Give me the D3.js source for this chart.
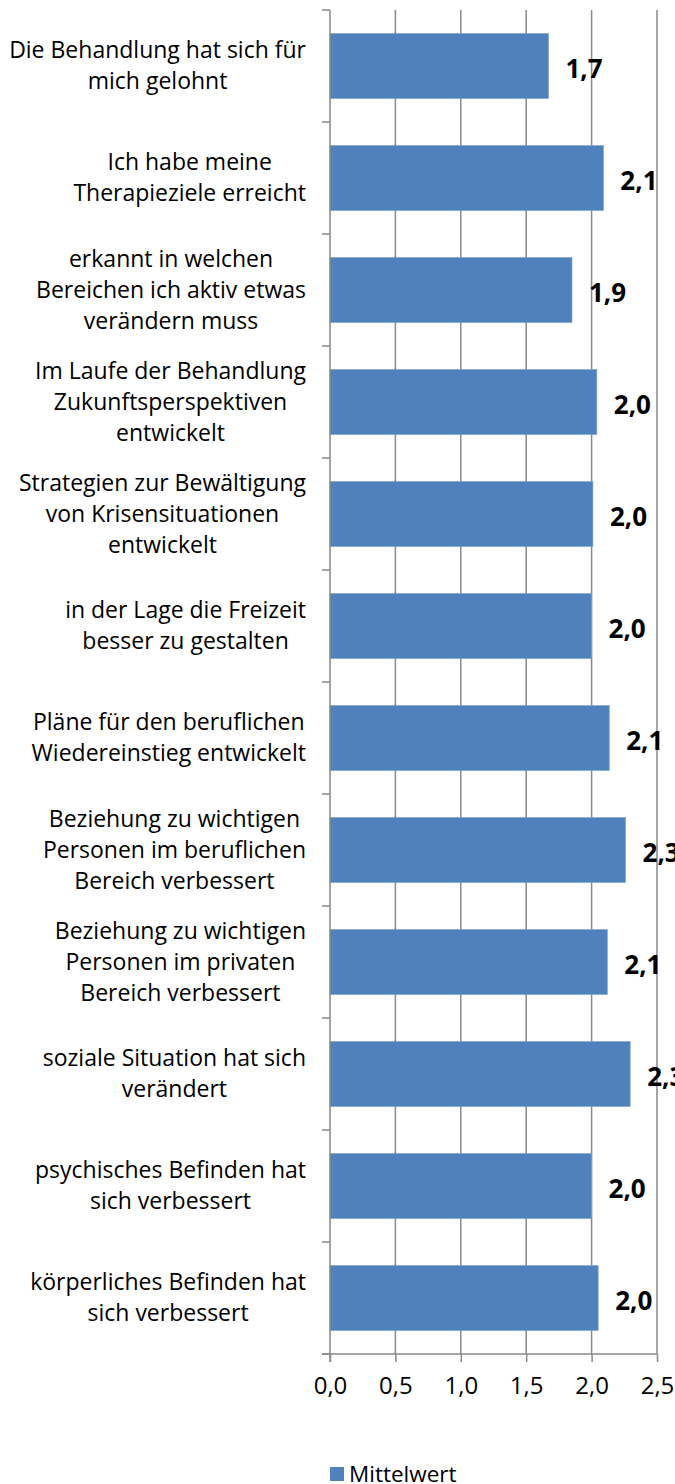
<!DOCTYPE html>
<html>
<head>
<meta charset="utf-8">
<script src="https://cdn.jsdelivr.net/npm/d3@7"></script>
<style>
    body { margin: 0; background: #fff; }
    svg { display: block; font-family: "Open Sans", sans-serif; }
</style>
</head>
<body>
<div id="container"></div>
<script>
// categories, top to bottom (each entry = wrapped lines)
const categories = [
    ["Die Behandlung hat sich für", "mich gelohnt"],
    ["Ich habe meine", "Therapieziele erreicht"],
    ["erkannt in welchen", "Bereichen ich aktiv etwas", "verändern muss"],
    ["Im Laufe der Behandlung", "Zukunftsperspektiven", "entwickelt"],
    ["Strategien zur Bewältigung", "von Krisensituationen", "entwickelt"],
    ["in der Lage die Freizeit", "besser zu gestalten"],
    ["Pläne für den beruflichen", "Wiedereinstieg entwickelt"],
    ["Beziehung zu wichtigen", "Personen im beruflichen", "Bereich verbessert"],
    ["Beziehung zu wichtigen", "Personen im privaten", "Bereich verbessert"],
    ["soziale Situation hat sich", "verändert"],
    ["psychisches Befinden hat", "sich verbessert"],
    ["körperliches Befinden hat", "sich verbessert"]
];
const mittelwert = [1.67, 2.09, 1.85, 2.04, 2.01, 2.0, 2.135, 2.26, 2.12, 2.295, 2.0, 2.05];
const xTicks = [0, 0.5, 1.0, 1.5, 2.0, 2.5];
const seriesName = "Mittelwert";

const width = 675;
const height = 1484;
const marginTop = 10;
const marginLeft = 330;
const plotRight = 657;
const plotBottom = 1354;

const barColor = "#4F81BD";
const gridColor = "#898989";

const data = mittelwert.map((v, i) => ({ idx: i, lines: categories[i], value: v }));

const x = d3.scaleLinear()
    .domain([0, 2.5])
    .range([marginLeft, plotRight]);

const y = d3.scaleBand()
    .domain(data.map(d => d.idx))
    .range([marginTop, plotBottom])
    .paddingInner(0.42)
    .paddingOuter(0.21);

const fmt = v => d3.format(".1f")(v).replace(".", ",");

const svg = d3.create("svg")
    .attr("width", width)
    .attr("height", height);

// vertical gridlines
svg.append("g")
    .selectAll("line")
    .data(xTicks.slice(1))
    .join("line")
        .attr("x1", d => x(d))
        .attr("x2", d => x(d))
        .attr("y1", marginTop)
        .attr("y2", plotBottom)
        .attr("stroke", gridColor)
        .attr("stroke-width", 1.5);

// bars
svg.append("g")
    .selectAll("rect")
    .data(data)
    .join("rect")
        .attr("x", x(0))
        .attr("y", d => y(d.idx))
        .attr("width", d => x(d.value) - x(0))
        .attr("height", y.bandwidth())
        .attr("fill", barColor)
        .attr("stroke", "#7FA3D1")
        .attr("stroke-width", 0.7);

// value labels
svg.append("g")
    .selectAll("text")
    .data(data)
    .join("text")
        .attr("x", d => x(d.value) + 17)
        .attr("y", d => y(d.idx) + y.bandwidth() / 2 + 12)
        .attr("font-size", "26px")
        .attr("font-weight", "bold")
        .attr("fill", "#000")
        .text(d => fmt(d.value));

// x axis
const xAxis = svg.append("g")
    .attr("transform", `translate(0,${plotBottom})`)
    .call(d3.axisBottom(x)
        .tickValues(xTicks)
        .tickSize(8)
        .tickSizeOuter(0)
        .tickPadding(15)
        .tickFormat(fmt));
xAxis.select(".domain").remove();
xAxis.selectAll(".tick line").attr("stroke", gridColor).attr("stroke-width", 1.5);
xAxis.selectAll(".tick text")
    .attr("font-size", "24px")
    .attr("font-family", "'Open Sans', sans-serif")
    .attr("fill", "#000");
xAxis.append("line")
    .attr("x1", marginLeft - 8)
    .attr("x2", plotRight)
    .attr("stroke", gridColor)
    .attr("stroke-width", 1.5);

// y axis line with ticks at band boundaries
const boundaries = d3.range(data.length + 1).map(i => marginTop + i * y.step());
svg.append("line")
    .attr("x1", marginLeft)
    .attr("x2", marginLeft)
    .attr("y1", marginTop)
    .attr("y2", plotBottom + 8)
    .attr("stroke", gridColor)
    .attr("stroke-width", 1.5);
svg.append("g")
    .selectAll("line")
    .data(boundaries)
    .join("line")
        .attr("x1", marginLeft - 8)
        .attr("x2", marginLeft)
        .attr("y1", d => d)
        .attr("y2", d => d)
        .attr("stroke", gridColor)
        .attr("stroke-width", 1.5);

// category labels: lines centred in block, block right edge at ~306
const lineH = 31;
const labelRight = 306;
const catG = svg.append("g")
    .attr("font-size", "23px")
    .attr("fill", "#000");
data.forEach(d => {
    const g = catG.append("g");
    const cy = y(d.idx) + y.bandwidth() / 2;
    const n = d.lines.length;
    const texts = d.lines.map((ln, j) => g.append("text")
        .attr("y", cy + (j - (n - 1) / 2) * lineH + 7.5)
        .attr("text-anchor", "middle")
        .text(ln));
    d._texts = texts;
});

// legend
const legend = svg.append("g")
    .attr("transform", `translate(330,${1474})`);
legend.append("rect")
    .attr("x", 0)
    .attr("y", -7)
    .attr("width", 14)
    .attr("height", 14)
    .attr("fill", barColor);
legend.append("text")
    .attr("x", 19)
    .attr("y", 8)
    .attr("font-size", "22.5px")
    .attr("fill", "#000")
    .text(seriesName);

document.getElementById("container").append(svg.node());

// now that text is in the DOM, centre each label block against its widest line
data.forEach(d => {
    const maxW = d3.max(d._texts, t => t.node().getComputedTextLength());
    d._texts.forEach(t => t.attr("x", labelRight - maxW / 2));
});
</script>
</body>
</html>
